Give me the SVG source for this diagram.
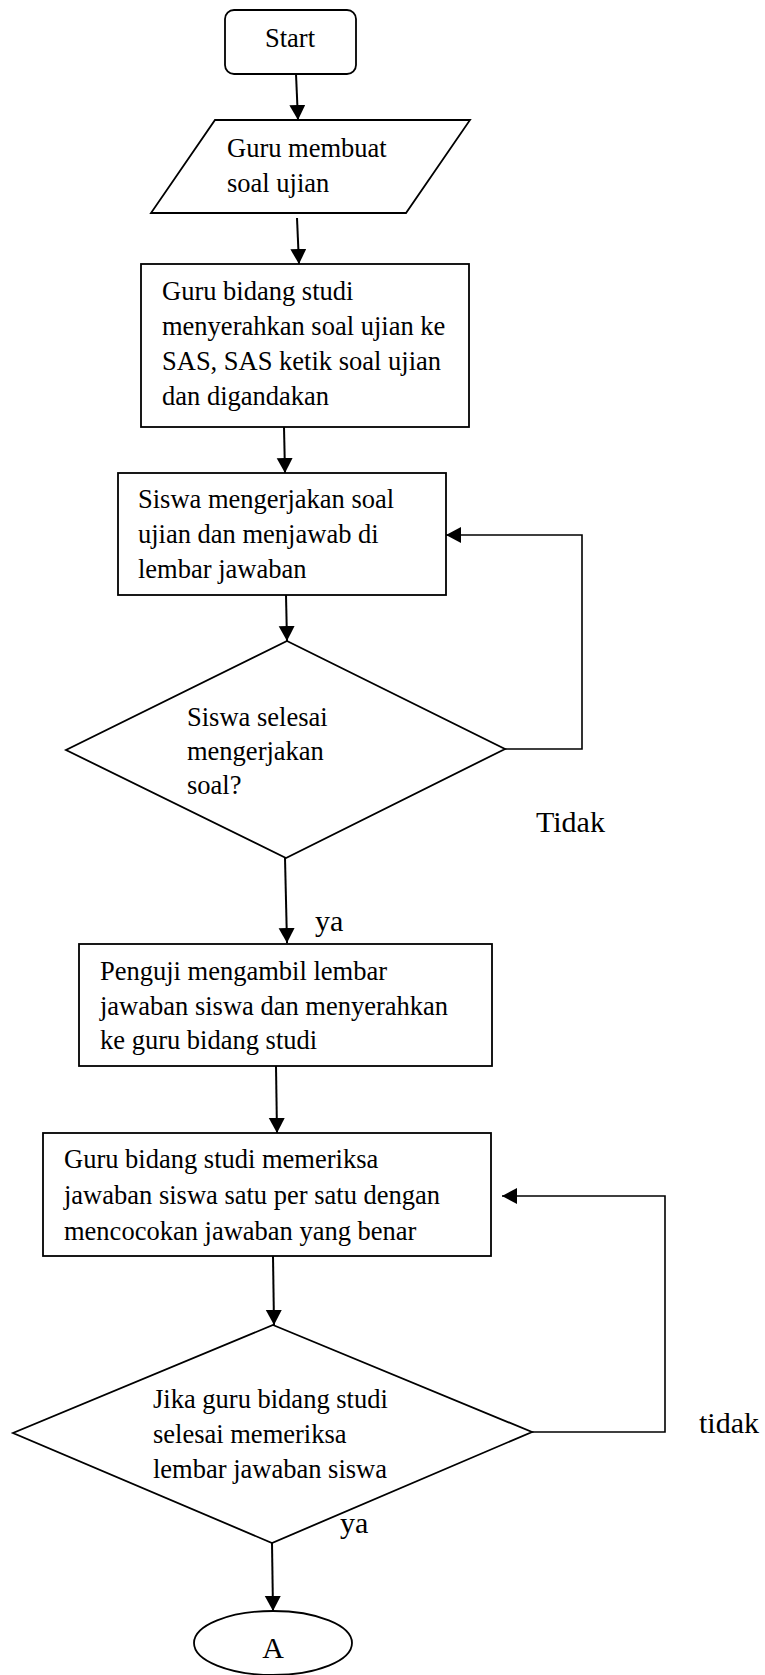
<svg xmlns="http://www.w3.org/2000/svg" width="765" height="1675" viewBox="0 0 765 1675">
<defs>
<marker id="ah" markerUnits="userSpaceOnUse" markerWidth="16" markerHeight="17" refX="15" refY="8" orient="auto">
<path d="M0,0 L15,8 L0,16 z" fill="#000"/>
</marker>
<style>
.shape{fill:#fff;stroke:#000;stroke-width:1.8}
.t{font-family:"Liberation Serif","Times New Roman",serif;font-size:26.5px;fill:#000}
.lbl{font-family:"Liberation Serif","Times New Roman",serif;font-size:30px;fill:#000}
.c{fill:none;stroke:#000;stroke-width:2}
.fb{fill:none;stroke:#000;stroke-width:1.6}
</style>
</defs>
<rect width="765" height="1675" fill="#fff"/>
<g id="connectors">
<line class="c" x1="296" y1="74" x2="298" y2="120" marker-end="url(#ah)"/>
<line class="c" x1="297" y1="218" x2="299" y2="264" marker-end="url(#ah)"/>
<line class="c" x1="284" y1="427" x2="285" y2="473" marker-end="url(#ah)"/>
<line class="c" x1="286" y1="595" x2="287" y2="641" marker-end="url(#ah)"/>
<line class="c" x1="285" y1="858" x2="287" y2="943" marker-end="url(#ah)"/>
<polyline class="fb" points="505,749 582,749 582,535 446,535" marker-end="url(#ah)"/>
<line class="c" x1="276" y1="1066" x2="277" y2="1133" marker-end="url(#ah)"/>
<polyline class="fb" points="532,1432 665,1432 665,1196 502,1196" marker-end="url(#ah)"/>
<line class="c" x1="273" y1="1256" x2="274" y2="1325" marker-end="url(#ah)"/>
<line class="c" x1="272" y1="1543" x2="273" y2="1611" marker-end="url(#ah)"/>
<text class="lbl" x="536" y="832">Tidak</text>
<text class="lbl" x="315" y="931">ya</text>
<text class="lbl" x="699" y="1433">tidak</text>
<text class="lbl" x="340" y="1533">ya</text>
</g>
<g id="start">
<rect class="shape" x="225" y="10" width="131" height="64" rx="9"/>
<text class="t" x="290" y="47" text-anchor="middle">Start</text>
</g>
<g id="guru-membuat">
<polygon class="shape" points="215,120 470,120 406,213 151,213"/>
<text class="t" x="227" y="157">Guru membuat</text>
<text class="t" x="227" y="192">soal ujian</text>
</g>
<g id="serahkan-sas">
<rect class="shape" x="141" y="264" width="328" height="163"/>
<text class="t" x="162" y="300">Guru bidang studi</text>
<text class="t" x="162" y="335">menyerahkan soal ujian ke</text>
<text class="t" x="162" y="370">SAS, SAS ketik soal ujian</text>
<text class="t" x="162" y="405">dan digandakan</text>
</g>
<g id="siswa-mengerjakan">
<rect class="shape" x="118" y="473" width="328" height="122"/>
<text class="t" x="138" y="508">Siswa mengerjakan soal</text>
<text class="t" x="138" y="543">ujian dan menjawab di</text>
<text class="t" x="138" y="578">lembar jawaban</text>
</g>
<g id="decision-selesai">
<polygon class="shape" points="287,641 505,749 286,858 66,750"/>
<text class="t" x="187" y="726">Siswa selesai</text>
<text class="t" x="187" y="760">mengerjakan</text>
<text class="t" x="187" y="794">soal?</text>
</g>
<g id="penguji">
<rect class="shape" x="79" y="944" width="413" height="122"/>
<text class="t" x="100" y="980">Penguji mengambil lembar</text>
<text class="t" x="100" y="1015">jawaban siswa dan menyerahkan</text>
<text class="t" x="100" y="1049">ke guru bidang studi</text>
</g>
<g id="guru-memeriksa">
<rect class="shape" x="43" y="1133" width="448" height="123"/>
<text class="t" x="64" y="1168">Guru bidang studi memeriksa</text>
<text class="t" x="64" y="1204">jawaban siswa satu per satu dengan</text>
<text class="t" x="64" y="1240">mencocokan jawaban yang benar</text>
</g>
<g id="decision-periksa">
<polygon class="shape" points="273,1325 532,1432 272,1543 13,1433"/>
<text class="t" x="153" y="1408">Jika guru bidang studi</text>
<text class="t" x="153" y="1443">selesai memeriksa</text>
<text class="t" x="153" y="1478">lembar jawaban siswa</text>
</g>
<g id="connector-a">
<ellipse class="shape" cx="273" cy="1643" rx="79" ry="32"/>
<text class="lbl" x="273" y="1658" text-anchor="middle">A</text>
</g>
</svg>
